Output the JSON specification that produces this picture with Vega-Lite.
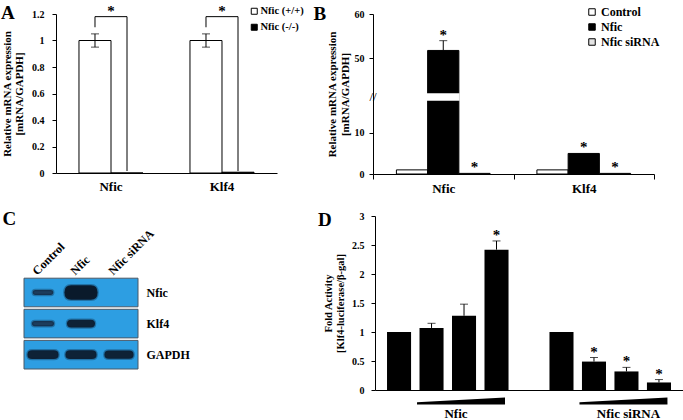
{
  "$schema": "https://vega.github.io/schema/vega-lite/v6.json",
  "padding": {"left": 1, "top": 3, "right": 2, "bottom": 2},
  "background": "white",
  "config": {
    "font": "Liberation Serif",
    "view": {"stroke": null},
    "axis": {"labelFont": "Liberation Serif", "titleFont": "Liberation Serif", "labelFontWeight": "bold", "titleFontWeight": "bold", "labelColor": "black", "titleColor": "black", "domainColor": "black", "tickColor": "black", "grid": false, "labelOverlap": false, "titleLineHeight": 12.5},
    "legend": {"labelFont": "Liberation Serif", "labelFontWeight": "bold", "labelColor": "black"},
    "title": {"font": "Liberation Serif", "fontWeight": "bold", "fontSize": 19, "color": "black"},
    "text": {"font": "Liberation Serif", "color": "black"}
  },
  "datasets": {
    "a_bars": [
      {"gene": "Nfic", "genotype": "Nfic (+/+)", "value": 1},
      {"gene": "Nfic", "genotype": "Nfic (-/-)", "value": 0},
      {"gene": "Klf4", "genotype": "Nfic (+/+)", "value": 1},
      {"gene": "Klf4", "genotype": "Nfic (-/-)", "value": 0.006}
    ],
    "a_err": [
      {"gene": "Nfic", "genotype": "Nfic (+/+)", "lo": 0.95, "hi": 1.05},
      {"gene": "Klf4", "genotype": "Nfic (+/+)", "lo": 0.95, "hi": 1.05}
    ],
    "a_bracket": [
      {"gene": "Nfic", "genotype": "Nfic (+/+)", "y": 1.1, "ord": 0},
      {"gene": "Nfic", "genotype": "Nfic (+/+)", "y": 1.18, "ord": 1},
      {"gene": "Nfic", "genotype": "Nfic (-/-)", "y": 1.18, "ord": 2},
      {"gene": "Nfic", "genotype": "Nfic (-/-)", "y": 0.015, "ord": 3},
      {"gene": "Klf4", "genotype": "Nfic (+/+)", "y": 1.1, "ord": 0},
      {"gene": "Klf4", "genotype": "Nfic (+/+)", "y": 1.18, "ord": 1},
      {"gene": "Klf4", "genotype": "Nfic (-/-)", "y": 1.18, "ord": 2},
      {"gene": "Klf4", "genotype": "Nfic (-/-)", "y": 0.015, "ord": 3}
    ],
    "a_star": [{"gene": "Nfic", "y": 1.18}, {"gene": "Klf4", "y": 1.18}],
    "b_bars": [
      {"gene": "Nfic", "treatment": "Control", "value": 1},
      {"gene": "Nfic", "treatment": "Nfic", "value": 51.8},
      {"gene": "Nfic", "treatment": "Nfic siRNA", "value": 0.15},
      {"gene": "Klf4", "treatment": "Control", "value": 1},
      {"gene": "Klf4", "treatment": "Nfic", "value": 5},
      {"gene": "Klf4", "treatment": "Nfic siRNA", "value": 0.15}
    ],
    "b_err": [{"gene": "Nfic", "treatment": "Nfic", "lo": 51.8, "hi": 54}],
    "b_star": [
      {"gene": "Nfic", "treatment": "Nfic", "y": 54},
      {"gene": "Nfic", "treatment": "Nfic siRNA", "y": 0.15},
      {"gene": "Klf4", "treatment": "Nfic", "y": 5},
      {"gene": "Klf4", "treatment": "Nfic siRNA", "y": 0.15}
    ],
    "b_break": [{"gene": "Nfic", "treatment": "Nfic", "from": 18, "to": 42}],
    "c_rows": [{"protein": "Nfic"}, {"protein": "Klf4"}, {"protein": "GAPDH"}],
    "c_lanes": [{"lane": "Control"}, {"lane": "Nfic"}, {"lane": "Nfic siRNA"}],
    "c_bands": [
      {"lane": "Control", "protein": "Nfic", "signal": 0.36, "kind": "weak"},
      {"lane": "Nfic", "protein": "Nfic", "signal": 0.95, "kind": "saturated"},
      {"lane": "Control", "protein": "Klf4", "signal": 0.42, "kind": "weak"},
      {"lane": "Nfic", "protein": "Klf4", "signal": 0.68, "kind": "strong"},
      {"lane": "Control", "protein": "GAPDH", "signal": 0.84, "kind": "strong"},
      {"lane": "Nfic", "protein": "GAPDH", "signal": 0.84, "kind": "strong"},
      {"lane": "Nfic siRNA", "protein": "GAPDH", "signal": 0.74, "kind": "strong"}
    ],
    "d_bars": [
      {"slot": "N1", "value": 1, "hi": 1, "star": false},
      {"slot": "N2", "value": 1.07, "hi": 1.15, "star": false},
      {"slot": "N3", "value": 1.28, "hi": 1.48, "star": false},
      {"slot": "N4", "value": 2.42, "hi": 2.57, "star": true},
      {"slot": "S1", "value": 1, "hi": 1, "star": false},
      {"slot": "S2", "value": 0.49, "hi": 0.56, "star": true},
      {"slot": "S3", "value": 0.32, "hi": 0.39, "star": true},
      {"slot": "S4", "value": 0.13, "hi": 0.18, "star": true}
    ],
    "d_wedge": [{"slot": "N3", "treatment": "Nfic"}, {"slot": "S3", "treatment": "Nfic siRNA"}]
  },
  "resolve": {"scale": {"fill": "independent", "color": "independent", "size": "independent", "shape": "independent", "xOffset": "independent"}, "legend": {"fill": "independent"}},
  "spacing": 15,
  "vconcat": [
    {
      "hconcat": [
        {
          "width": 221, "height": 159,
          "title": {"text": "A", "anchor": "start", "frame": "bounds", "offset": 0, "dy": 19},
          "layer": [
            {
              "data": {"name": "a_bars"},
              "mark": {"type": "bar", "stroke": "black", "strokeWidth": 1},
              "encoding": {
                "x": {"field": "gene", "type": "nominal", "sort": ["Nfic", "Klf4"], "scale": {"paddingInner": 0.423, "paddingOuter": 0.207}, "axis": {"title": null, "labelAngle": 0, "ticks": false, "labelFontSize": 13, "labelPadding": 7}},
                "xOffset": {"field": "genotype", "type": "nominal", "sort": ["Nfic (+/+)", "Nfic (-/-)"], "scale": {"paddingInner": 0, "paddingOuter": 0}},
                "y": {"field": "value", "type": "quantitative", "scale": {"domain": [0, 1.2], "nice": false}, "axis": {"values": [0, 0.2, 0.4, 0.6, 0.8, 1, 1.2], "tickCount": 8, "labelOverlap": false, "format": "~g", "tickSize": 4, "labelPadding": 8, "labelFontSize": 10, "title": ["Relative mRNA expression", "[mRNA/GAPDH]"], "titleFontSize": 11, "titlePadding": 7}},
                "fill": {"field": "genotype", "type": "nominal", "scale": {"domain": ["Nfic (+/+)", "Nfic (-/-)"], "range": ["white", "black"]}, "legend": {"title": null, "orient": "none", "legendX": 193, "legendY": -8, "symbolType": "square", "symbolSize": 36, "symbolStrokeColor": "black", "symbolStrokeWidth": 1, "labelFontSize": 10.5, "rowPadding": 5, "labelOffset": 1}}
              }
            },
            {
              "data": {"name": "a_err"},
              "mark": {"type": "rule", "color": "black"},
              "encoding": {
                "x": {"field": "gene", "type": "nominal", "sort": ["Nfic", "Klf4"]},
                "xOffset": {"field": "genotype", "type": "nominal", "sort": ["Nfic (+/+)", "Nfic (-/-)"]},
                "y": {"field": "lo", "type": "quantitative"}, "y2": {"field": "hi"}
              }
            },
            {
              "data": {"name": "a_err"},
              "mark": {"type": "tick", "orient": "horizontal", "size": 8, "thickness": 1, "color": "black"},
              "encoding": {
                "x": {"field": "gene", "type": "nominal", "sort": ["Nfic", "Klf4"]},
                "xOffset": {"field": "genotype", "type": "nominal", "sort": ["Nfic (+/+)", "Nfic (-/-)"]},
                "y": {"field": "lo", "type": "quantitative"}
              }
            },
            {
              "data": {"name": "a_err"},
              "mark": {"type": "tick", "orient": "horizontal", "size": 8, "thickness": 1, "color": "black"},
              "encoding": {
                "x": {"field": "gene", "type": "nominal", "sort": ["Nfic", "Klf4"]},
                "xOffset": {"field": "genotype", "type": "nominal", "sort": ["Nfic (+/+)", "Nfic (-/-)"]},
                "y": {"field": "hi", "type": "quantitative"}
              }
            },
            {
              "data": {"name": "a_bracket"},
              "mark": {"type": "line", "color": "black", "strokeWidth": 1},
              "encoding": {
                "x": {"field": "gene", "type": "nominal", "sort": ["Nfic", "Klf4"]},
                "xOffset": {"field": "genotype", "type": "nominal", "sort": ["Nfic (+/+)", "Nfic (-/-)"]},
                "y": {"field": "y", "type": "quantitative"},
                "detail": {"field": "gene"},
                "order": {"field": "ord"}
              }
            },
            {
              "data": {"name": "a_star"},
              "mark": {"type": "text", "text": "*", "fontSize": 15, "fontWeight": "bold", "baseline": "alphabetic", "dy": -1},
              "encoding": {
                "x": {"field": "gene", "type": "nominal", "sort": ["Nfic", "Klf4"]},
                "y": {"field": "y", "type": "quantitative"}
              }
            }
          ]
        },
        {
          "width": 281, "height": 160,
          "title": {"text": "B", "anchor": "start", "frame": "bounds", "offset": 0, "dx": -13, "dy": 18},
          "layer": [
            {
              "data": {"name": "b_bars"},
              "mark": {"type": "bar", "stroke": "black", "strokeWidth": 1},
              "encoding": {
                "x": {"field": "gene", "type": "nominal", "sort": ["Nfic", "Klf4"], "scale": {"paddingInner": 0, "paddingOuter": 0}, "axis": {"title": null, "labelAngle": 0, "tickBand": "extent", "tickSize": 5, "labelFontSize": 13, "labelPadding": 3}},
                "xOffset": {"field": "treatment", "type": "nominal", "scale": {"domain": ["Control", "Nfic", "Nfic siRNA"], "paddingInner": 0, "paddingOuter": 0.75}},
                "y": {"field": "value", "type": "quantitative", "scale": {"domain": [0, 18, 42, 60], "range": [160, 86, 80, 0], "nice": false, "zero": false}, "axis": {"values": [0, 10, 50, 60], "tickCount": 8, "labelOverlap": false, "format": "d", "tickSize": 4, "labelPadding": 5, "labelFontSize": 10, "title": ["Relative mRNA expression", "[mRNA/GAPDH]"], "titleFontSize": 11, "titlePadding": 4}},
                "fill": {"field": "treatment", "type": "nominal", "scale": {"domain": ["Control", "Nfic", "Nfic siRNA"], "range": ["white", "black", "#e4e4e4"]}, "legend": {"title": null, "orient": "none", "legendX": 213, "legendY": -8, "symbolType": "square", "symbolSize": 42, "symbolStrokeColor": "black", "symbolStrokeWidth": 1, "labelFontSize": 12, "rowPadding": 3, "labelOffset": 3}}
              }
            },
            {
              "data": {"name": "b_break"},
              "mark": {"type": "rect", "fill": "white", "stroke": "white", "strokeWidth": 1.5},
              "encoding": {
                "x": {"field": "gene", "type": "nominal", "sort": ["Nfic", "Klf4"]},
                "xOffset": {"field": "treatment", "type": "nominal"},
                "y": {"field": "from", "type": "quantitative"}, "y2": {"field": "to"}
              }
            },
            {
              "data": {"name": "b_break"},
              "mark": {"type": "text", "text": "//", "fontSize": 13, "fontWeight": "normal", "baseline": "middle"},
              "encoding": {
                "x": {"field": "gene", "type": "nominal", "sort": ["Nfic", "Klf4"], "bandPosition": 0},
                "y": {"datum": 30, "type": "quantitative"}
              }
            },
            {
              "data": {"name": "b_err"},
              "mark": {"type": "rule", "color": "black"},
              "encoding": {
                "x": {"field": "gene", "type": "nominal", "sort": ["Nfic", "Klf4"]},
                "xOffset": {"field": "treatment", "type": "nominal"},
                "y": {"field": "lo", "type": "quantitative"}, "y2": {"field": "hi"}
              }
            },
            {
              "data": {"name": "b_err"},
              "mark": {"type": "tick", "orient": "horizontal", "size": 8, "thickness": 1, "color": "black"},
              "encoding": {
                "x": {"field": "gene", "type": "nominal", "sort": ["Nfic", "Klf4"]},
                "xOffset": {"field": "treatment", "type": "nominal"},
                "y": {"field": "hi", "type": "quantitative"}
              }
            },
            {
              "data": {"name": "b_star"},
              "mark": {"type": "text", "text": "*", "fontSize": 15, "fontWeight": "bold", "baseline": "alphabetic", "dy": -1},
              "encoding": {
                "x": {"field": "gene", "type": "nominal", "sort": ["Nfic", "Klf4"]},
                "xOffset": {"field": "treatment", "type": "nominal"},
                "y": {"field": "y", "type": "quantitative"}
              }
            }
          ]
        }
      ],
      "spacing": 9,
      "resolve": {"scale": {"fill": "independent", "xOffset": "independent"}, "legend": {"fill": "independent"}}
    },
    {
      "hconcat": [
        {
          "width": 82, "height": 153,
          "title": {"text": "C", "anchor": "start", "frame": "bounds", "offset": 0, "dx": -20, "dy": 13},
          "layer": [
            {
              "data": {"name": "c_rows"},
              "mark": {"type": "bar", "fill": "#2d9ee2", "stroke": "#4a5866", "strokeWidth": 1, "width": {"band": 3}},
              "encoding": {
                "x": {"datum": "Nfic", "type": "nominal", "scale": {"domain": ["Control", "Nfic", "Nfic siRNA"], "range": [-32, 82], "paddingInner": 0, "paddingOuter": 0}, "axis": null},
                "y": {"field": "protein", "type": "nominal", "scale": {"domain": ["pad1", "pad2", "Nfic", "Klf4", "GAPDH"], "paddingInner": 0.08, "paddingOuter": 0}, "axis": {"orient": "right", "title": null, "ticks": false, "domain": false, "labelPadding": 8, "labelFontSize": 12, "labelExpr": "indexof(['Nfic','Klf4','GAPDH'], datum.value) >= 0 ? datum.value : ''"}}
              }
            },
            {
              "data": {"name": "c_bands"},
              "mark": {"type": "point", "filled": true, "opacity": 1, "stroke": "#0c2036", "strokeWidth": 2.5, "strokeOpacity": 0.35},
              "encoding": {
                "x": {"field": "lane", "type": "nominal", "axis": null},
                "y": {"field": "protein", "type": "nominal"},
                "shape": {"field": "kind", "type": "nominal", "scale": {"domain": ["weak", "strong", "saturated"], "range": [
                  "M-0.75,-0.24 L0.75,-0.24 Q1,-0.24 1,0 Q1,0.24 0.75,0.24 L-0.75,0.24 Q-1,0.24 -1,0 Q-1,-0.24 -0.75,-0.24 Z",
                  "M-0.7,-0.28 L0.7,-0.28 Q1,-0.28 1,0 Q1,0.28 0.7,0.28 L-0.7,0.28 Q-1,0.28 -1,0 Q-1,-0.28 -0.7,-0.28 Z",
                  "M-0.6,-0.44 L0.6,-0.44 Q1,-0.44 1,0 Q1,0.44 0.6,0.44 L-0.6,0.44 Q-1,0.44 -1,0 Q-1,-0.44 -0.6,-0.44 Z"
                ]}, "legend": null},
                "size": {"field": "signal", "type": "quantitative", "scale": {"domain": [0, 1], "range": [0, 1156]}, "legend": null},
                "color": {"field": "kind", "type": "nominal", "scale": {"domain": ["weak", "strong", "saturated"], "range": ["#1d3d5c", "#0e2236", "#0a1a2b"]}, "legend": null}
              }
            },
            {
              "data": {"name": "c_lanes"},
              "mark": {"type": "text", "angle": 315, "align": "left", "baseline": "alphabetic", "fontSize": 12, "fontWeight": "bold", "dx": -4, "dy": -4},
              "encoding": {
                "x": {"field": "lane", "type": "nominal", "axis": null},
                "y": {"datum": "pad2", "type": "nominal", "bandPosition": 1},
                "text": {"field": "lane"}
              }
            }
          ]
        },
        {
          "width": 308, "height": 174,
          "title": {"text": "D", "anchor": "start", "frame": "bounds", "offset": 0, "dx": -5, "dy": 19},
          "layer": [
            {
              "data": {"name": "d_bars"},
              "mark": {"type": "bar", "fill": "black"},
              "encoding": {
                "x": {"field": "slot", "type": "nominal", "scale": {"domain": ["N1", "N2", "N3", "N4", "gap", "S1", "S2", "S3", "S4"], "paddingInner": 0.26, "paddingOuter": 0.37}, "axis": {"title": null, "ticks": false, "labelAngle": 0, "labelFontSize": 13, "labelPadding": 17, "labelOffset": {"condition": {"test": "datum.value == 'N3'", "value": -8}, "value": 2}, "labelExpr": "datum.value == 'N3' ? 'Nfic' : datum.value == 'S3' ? 'Nfic siRNA' : ''"}},
                "y": {"field": "value", "type": "quantitative", "scale": {"domain": [0, 3], "nice": false}, "axis": {"values": [0, 0.5, 1, 1.5, 2, 2.5, 3], "tickCount": 8, "labelOverlap": false, "format": "~g", "tickSize": 4, "labelPadding": 7, "labelFontSize": 10, "title": ["Fold Activity", "[Klf4-luciferase/β-gal]"], "titleFontSize": 10.5, "titlePadding": 6}}
              }
            },
            {
              "data": {"name": "d_bars"},
              "transform": [{"filter": "datum.hi > datum.value"}],
              "mark": {"type": "rule", "color": "black"},
              "encoding": {
                "x": {"field": "slot", "type": "nominal"},
                "y": {"field": "value", "type": "quantitative"}, "y2": {"field": "hi"}
              }
            },
            {
              "data": {"name": "d_bars"},
              "transform": [{"filter": "datum.hi > datum.value"}],
              "mark": {"type": "tick", "orient": "horizontal", "size": 8, "thickness": 1, "color": "black"},
              "encoding": {
                "x": {"field": "slot", "type": "nominal"},
                "y": {"field": "hi", "type": "quantitative"}
              }
            },
            {
              "data": {"name": "d_bars"},
              "transform": [{"filter": "datum.star"}],
              "mark": {"type": "text", "text": "*", "fontSize": 15, "fontWeight": "bold", "baseline": "alphabetic", "dy": -1},
              "encoding": {
                "x": {"field": "slot", "type": "nominal"},
                "y": {"field": "hi", "type": "quantitative"}
              }
            },
            {
              "data": {"name": "d_wedge"},
              "mark": {"type": "point", "shape": "M-1,0.08 L-1,0.03 L1,-0.08 L1,0.08 Z", "size": 7744, "filled": true, "color": "black", "opacity": 1, "strokeWidth": 0, "xOffset": -3},
              "encoding": {
                "x": {"field": "slot", "type": "nominal"},
                "y": {"datum": -0.19, "type": "quantitative"}
              }
            }
          ]
        }
      ],
      "spacing": 128,
      "resolve": {"scale": {"color": "independent", "size": "independent", "shape": "independent"}}
    }
  ]
}
